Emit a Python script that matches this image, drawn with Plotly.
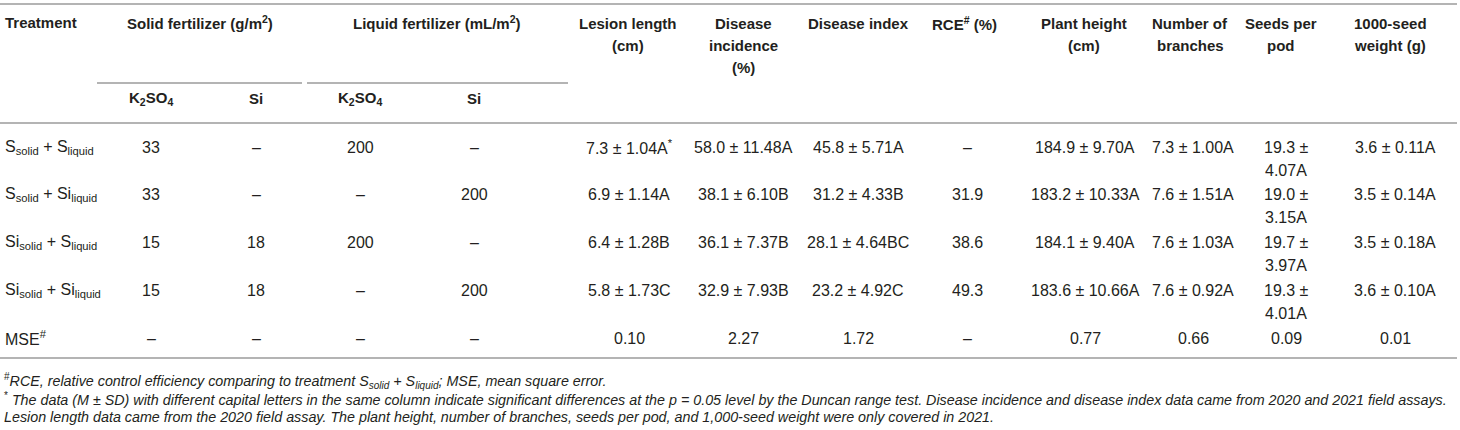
import plotly.graph_objects as go

# ---------------- data ----------------
header_labels = ["Treatment", "Solid fertilizer (g/m<sup>2</sup>)", "Liquid fertilizer (mL/m<sup>2</sup>)",
                 "Lesion length<br>(cm)", "Disease<br>incidence<br>(%)", "Disease index",
                 "RCE<sup>#</sup> (%)", "Plant height<br>(cm)", "Number of<br>branches",
                 "Seeds per<br>pod", "1000-seed<br>weight (g)"]
sub_labels = ["K<sub>2</sub>SO<sub>4</sub>", "Si", "K<sub>2</sub>SO<sub>4</sub>", "Si"]

treatments = ["S<sub>solid</sub> + S<sub>liquid</sub>", "S<sub>solid</sub> + Si<sub>liquid</sub>",
              "Si<sub>solid</sub> + S<sub>liquid</sub>", "Si<sub>solid</sub> + Si<sub>liquid</sub>",
              "MSE<sup>#</sup>"]
solid_k2so4 = ["33", "33", "15", "15", "–"]
solid_si = ["–", "–", "18", "18", "–"]
liquid_k2so4 = ["200", "–", "200", "–", "–"]
liquid_si = ["–", "200", "–", "200", "–"]
lesion_length = ["7.3 ± 1.04A<sup>*</sup>", "6.9 ± 1.14A", "6.4 ± 1.28B", "5.8 ± 1.73C", "0.10"]
disease_incidence = ["58.0 ± 11.48A", "38.1 ± 6.10B", "36.1 ± 7.37B", "32.9 ± 7.93B", "2.27"]
disease_index = ["45.8 ± 5.71A", "31.2 ± 4.33B", "28.1 ± 4.64BC", "23.2 ± 4.92C", "1.72"]
rce = ["–", "31.9", "38.6", "49.3", "–"]
plant_height = ["184.9 ± 9.70A", "183.2 ± 10.33A", "184.1 ± 9.40A", "183.6 ± 10.66A", "0.77"]
branches = ["7.3 ± 1.00A", "7.6 ± 1.51A", "7.6 ± 1.03A", "7.6 ± 0.92A", "0.66"]
seeds_per_pod = ["19.3 ±<br>4.07A", "19.0 ±<br>3.15A", "19.7 ±<br>3.97A", "19.3 ±<br>4.01A", "0.09"]
seed_weight = ["3.6 ± 0.11A", "3.5 ± 0.14A", "3.5 ± 0.18A", "3.6 ± 0.10A", "0.01"]

footnotes = [
    "<sup>#</sup><i>RCE, relative control efficiency comparing to treatment S<sub>solid</sub> + S<sub>liquid</sub>; MSE, mean square error.</i>",
    "<sup>*</sup> <i>The data (M ± SD) with different capital letters in the same column indicate significant differences at the p = 0.05 level by the Duncan range test. Disease incidence and disease index data came from 2020 and 2021 field assays.</i>",
    "<i>Lesion length data came from the 2020 field assay. The plant height, number of branches, seeds per pod, and 1,000-seed weight were only covered in 2021.</i>",
]

# ---------------- layout ----------------
W, H = 1460, 430
FONT = "Liberation Sans, Arial, Helvetica, sans-serif"
TXT = "#231f20"
RULE = "#b4b4b4"
FS_HEAD = 15
FS_BODY = 16
FS_NOTE = 14.3

data_cols = [solid_k2so4, solid_si, liquid_k2so4, liquid_si, lesion_length, disease_incidence,
             disease_index, rce, plant_height, branches, seeds_per_pod, seed_weight]
col_x = [151, 256, 360, 474, 629, 743, 858, 967, 1085, 1193, 1286, 1395]
top_col_x = [None, None, None, 628, 743, 858, 964, 1084, 1190, 1281, 1390]
group_x = [200, 437]
row_y = [147, 194, 242, 290, 338]
line_gap_head = 22
line_gap_body = 23

ann = []

def add(text, x, y, xanchor="center", bold=False, size=FS_BODY):
    ann.append(dict(text=("<b>%s</b>" % text) if bold else text, x=x, y=y, xref="x", yref="y",
                    xanchor=xanchor, yanchor="middle", showarrow=False,
                    font=dict(family=FONT, size=size, color=TXT)))

def add_lines(text, x, y0, gap, **kw):
    for i, part in enumerate(text.split("<br>")):
        add(part, x, y0 + i * gap, **kw)

# header row
add("Treatment", 3, 22, xanchor="left", bold=True, size=FS_HEAD)
add(header_labels[1], group_x[0], 22, bold=True, size=FS_HEAD)
add(header_labels[2], group_x[1], 22, bold=True, size=FS_HEAD)
for lab, x in zip(header_labels[3:], top_col_x[3:]):
    add_lines(lab, x, 23, line_gap_head, bold=True, size=FS_HEAD)
for lab, x in zip(sub_labels, col_x[:4]):
    add(lab, x, 98, bold=True, size=FS_HEAD)

# body
for r, t in enumerate(treatments):
    add(t, 3, row_y[r], xanchor="left")
for col, x in zip(data_cols, col_x):
    for r, v in enumerate(col):
        add_lines(v, x, row_y[r], line_gap_body)

# footnotes
fn_y = [381, 399, 417]
for t, y in zip(footnotes, fn_y):
    add(t, 2, y, xanchor="left", size=FS_NOTE)

shapes = []
def hline(x0, x1, y):
    shapes.append(dict(type="line", xref="x", yref="y", x0=x0, x1=x1, y0=y, y1=y,
                       line=dict(color=RULE, width=2)))

hline(0, 1457, 4)
hline(97, 302, 83)
hline(307, 568, 83)
hline(0, 1457, 123)
hline(0, 1457, 358)

fig = go.Figure()
fig.update_layout(
    width=W, height=H, margin=dict(l=0, r=0, t=0, b=0),
    paper_bgcolor="white", plot_bgcolor="white",
    xaxis=dict(range=[0, W], visible=False, fixedrange=True),
    yaxis=dict(range=[H, 0], visible=False, fixedrange=True),
    annotations=ann, shapes=shapes, showlegend=False,
)
fig.write_html("out.html", config={"displayModeBar": False},
               post_script="document.body.style.margin='0';document.body.style.overflow='hidden';")
